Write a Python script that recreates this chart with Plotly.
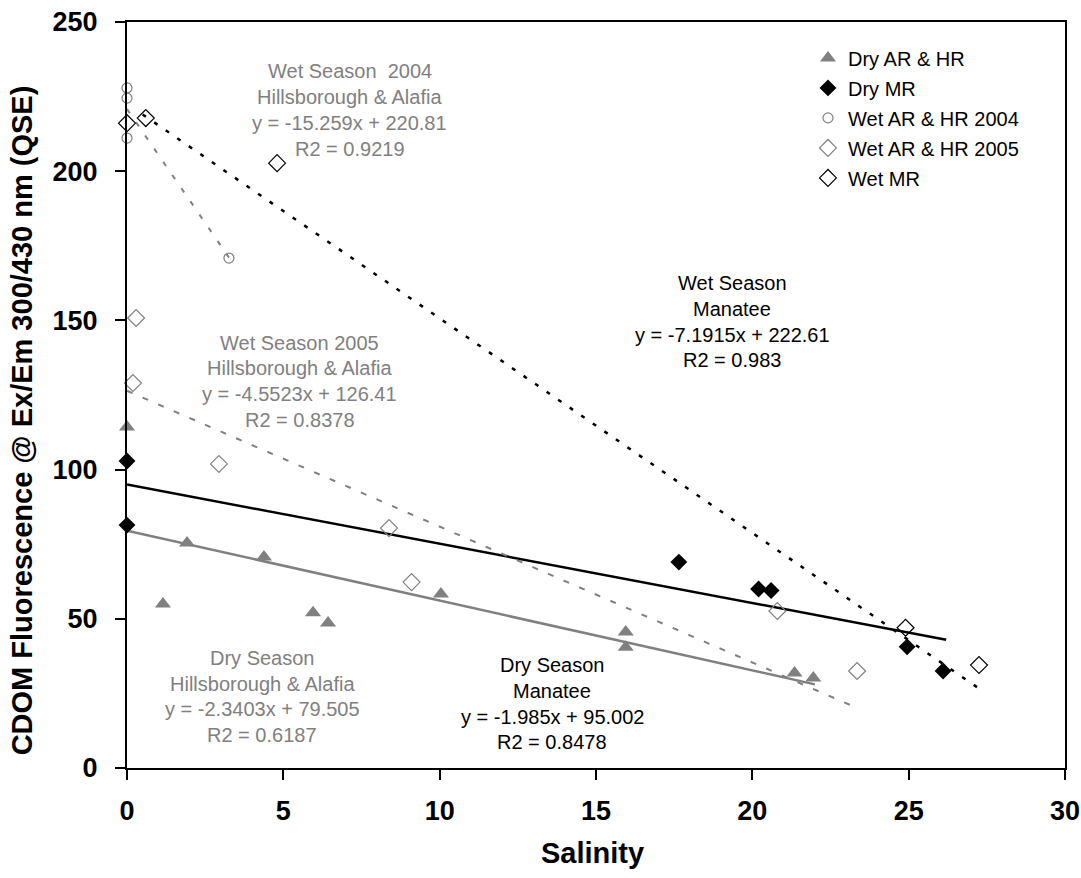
import plotly.graph_objects as go

# ---- data ----
dry_ar_hr_x = [0.0, 1.15, 1.92, 4.38, 5.95, 6.43, 10.04, 15.95, 15.95, 21.35, 21.95]
dry_ar_hr_y = [114.3, 55.0, 75.4, 70.7, 52.0, 48.6, 58.3, 45.6, 40.5, 31.8, 30.2]

dry_mr_x = [0.0, 0.0, 17.65, 20.2, 20.6, 24.95, 26.1]
dry_mr_y = [102.9, 81.4, 69.0, 60.0, 59.5, 40.6, 32.5]

wet04_x = [0.0, 0.0, 0.0, 3.26]
wet04_y = [227.9, 224.5, 211.1, 170.9]

wet05_x = [0.29, 0.19, 2.94, 8.38, 9.1, 20.8, 23.35]
wet05_y = [150.8, 129.0, 101.9, 80.4, 62.3, 52.6, 32.5]

wet_mr_x = [0.0, 0.6, 4.8, 24.9, 27.25]
wet_mr_y = [216.1, 217.8, 202.7, 47.0, 34.5]

# trend lines: slope, intercept, x start, x end
trend_names = ["Dry AR & HR", "Dry MR", "Wet AR & HR 2004", "Wet AR & HR 2005", "Wet MR"]
trend_slope = [-2.3403, -1.985, -15.259, -4.5523, -7.1915]
trend_icept = [79.505, 95.002, 220.81, 126.41, 222.61]
trend_x0 = [0.0, 0.0, 0.0, 0.0, 0.5]
trend_x1 = [22.0, 26.2, 3.26, 23.35, 27.2]

# equation labels (centre x, centre y in data units)
label_x = [7.13, 19.35, 5.53, 4.32, 13.6]
label_y = [220.5, 149.5, 129.6, 24.0, 21.5]
label_lines = [
    ["Wet Season  2004", "Hillsborough & Alafia", "y = -15.259x + 220.81", "R2 = 0.9219"],
    ["Wet Season", "Manatee", "y = -7.1915x + 222.61", "R2 = 0.983"],
    ["Wet Season 2005", "Hillsborough & Alafia", "y = -4.5523x + 126.41", "R2 = 0.8378"],
    ["Dry Season", "Hillsborough & Alafia", "y = -2.3403x + 79.505", "R2 = 0.6187"],
    ["Dry Season", "Manatee", "y = -1.985x + 95.002", "R2 = 0.8478"],
]

x_ticks = [0, 5, 10, 15, 20, 25, 30]
y_ticks = [0, 50, 100, 150, 200, 250]

GRAY = "#808080"
FONT = "Liberation Sans, Arial, sans-serif"
label_colors = [GRAY, "black", GRAY, GRAY, "black"]

fig = go.Figure()

trend_styles = [
    dict(color=GRAY, width=2.5, dash="solid"),
    dict(color="black", width=2.5, dash="solid"),
    dict(color=GRAY, width=2, dash="5px,11px"),
    dict(color=GRAY, width=2, dash="6px,11px"),
    dict(color="black", width=2.5, dash="4px,10px"),
]
for i in range(len(trend_names)):
    xs = [trend_x0[i], trend_x1[i]]
    ys = [trend_slope[i] * x + trend_icept[i] for x in xs]
    fig.add_trace(go.Scatter(x=xs, y=ys, mode="lines", line=trend_styles[i],
                             showlegend=False, hoverinfo="skip"))

common = dict(mode="markers", cliponaxis=False)
fig.add_trace(go.Scatter(x=dry_ar_hr_x, y=dry_ar_hr_y, name="Dry AR & HR", legendgroup="a",
                         marker=dict(symbol="triangle-up", size=14, color=GRAY), **common))
fig.add_trace(go.Scatter(x=dry_mr_x, y=dry_mr_y, name="Dry MR", legendgroup="b",
                         marker=dict(symbol="diamond", size=13, color="black"), **common))
fig.add_trace(go.Scatter(x=wet04_x, y=wet04_y, name="Wet AR & HR 2004", legendgroup="c",
                         marker=dict(symbol="circle-open", size=10, color=GRAY,
                                     line=dict(width=1.2)), **common))
fig.add_trace(go.Scatter(x=wet05_x, y=wet05_y, name="Wet AR & HR 2005", legendgroup="d",
                         marker=dict(symbol="diamond-open", size=13, color=GRAY,
                                     line=dict(width=1.2)), **common))
fig.add_trace(go.Scatter(x=wet_mr_x, y=wet_mr_y, name="Wet MR", legendgroup="e",
                         marker=dict(symbol="diamond-open", size=13, color="black",
                                     line=dict(width=1.2)), **common))

LINE_H = 25.7
for i, lines in enumerate(label_lines):
    n = len(lines)
    for k, txt in enumerate(lines):
        fig.add_annotation(x=label_x[i], y=label_y[i], text=txt, showarrow=False,
                           xanchor="center", yanchor="middle",
                           yshift=((n - 1) / 2 - k) * LINE_H,
                           font=dict(family=FONT, size=20, color=label_colors[i]))

# axis titles
fig.add_annotation(xref="paper", yref="paper", x=0, y=0.466, xshift=-105,
                   text="<b>CDOM Fluorescence @ Ex/Em 300/430 nm (QSE)</b>",
                   textangle=-90, showarrow=False, xanchor="center", yanchor="middle",
                   font=dict(family=FONT, size=29, color="black"))
fig.add_annotation(xref="paper", yref="paper", x=0.496, y=0, yshift=-85,
                   text="<b>Salinity</b>", showarrow=False, xanchor="center",
                   yanchor="middle", font=dict(family=FONT, size=29, color="black"))

fig.update_layout(
    width=1081, height=878,
    margin=dict(l=127, r=16, t=22, b=110),
    paper_bgcolor="white", plot_bgcolor="white",
    font=dict(family=FONT, color="black"),
    legend=dict(x=0.726, y=0.978, xanchor="left", yanchor="top",
                bgcolor="rgba(0,0,0,0)", borderwidth=0,
                font=dict(family=FONT, size=20, color="black"),
                tracegroupgap=1, itemwidth=30),
    xaxis=dict(range=[0, 30], tickvals=x_ticks, ticktext=[str(v) for v in x_ticks],
               showgrid=False, zeroline=False, showline=True, linecolor="black",
               linewidth=2, mirror=True, ticks="outside", ticklen=10, tickwidth=1.5,
               tickcolor="black", automargin=False, ticklabelstandoff=8,
               tickfont=dict(family=FONT, size=27, color="black", weight="bold")),
    yaxis=dict(range=[0, 250], tickvals=y_ticks, ticktext=[str(v) for v in y_ticks],
               showgrid=False, zeroline=False, showline=True, linecolor="black",
               linewidth=2, mirror=True, ticks="outside", ticklen=10, tickwidth=1.5,
               tickcolor="black", automargin=False, ticklabelstandoff=12,
               tickfont=dict(family=FONT, size=27, color="black", weight="bold")),
)

fig.write_html("out.html", config={"displayModeBar": False},
               post_script="document.body.style.margin='0';")
